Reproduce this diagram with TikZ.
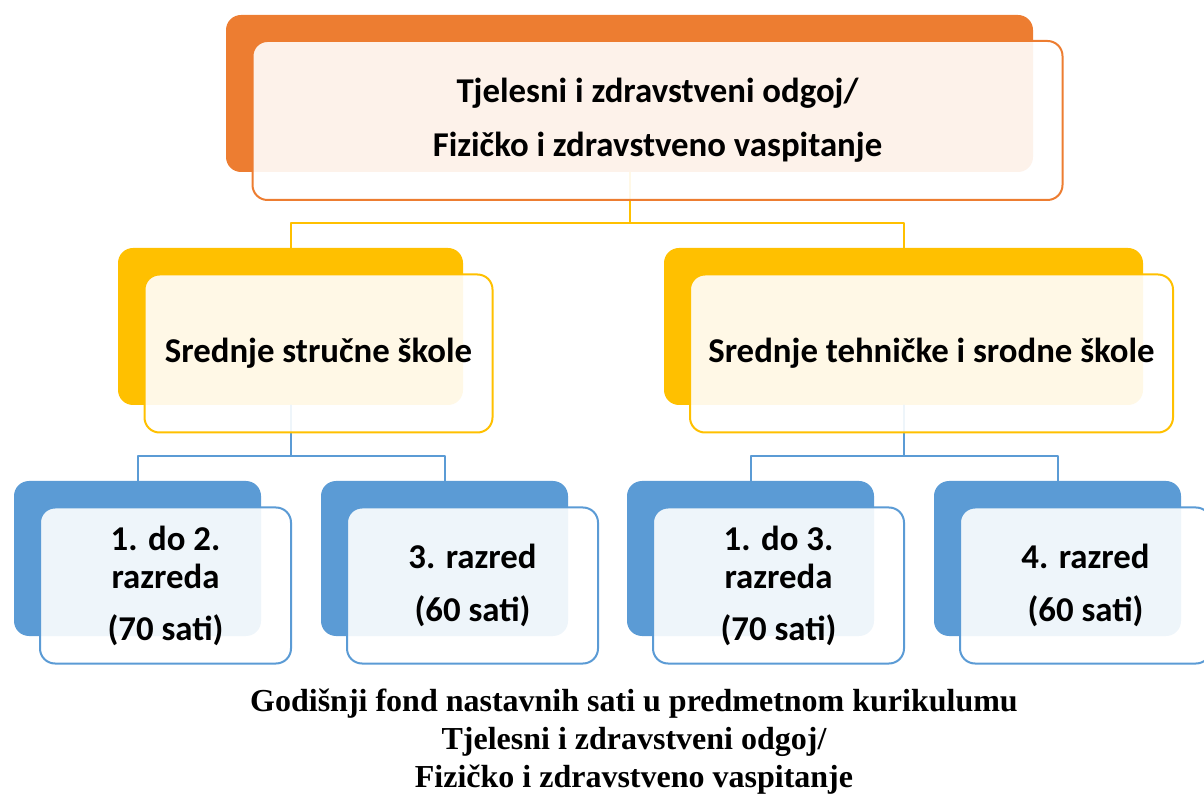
\documentclass[tikz,border=0pt]{standalone}
\usepackage{fontspec}
\setmainfont{Carlito}
\newfontfamily\capfont{Liberation Serif}
\usetikzlibrary{positioning}
\definecolor{orangeA}{HTML}{ED7D31}
\definecolor{goldA}{HTML}{FFC000}
\definecolor{blueA}{HTML}{5B9BD5}
\tikzset{
  back/.style={rectangle, rounded corners=7.5pt, inner sep=0pt, fill=#1},
  front/.style={rectangle, rounded corners=7.5pt, inner sep=0pt, draw=#1, line width=1pt,
    fill=white, fill opacity=0.9, text opacity=1, align=center,
    font=\fontsize{17.4}{19}\selectfont\bfseries},
  conn/.style={draw=#1, line width=1pt},
  caption/.style={font=\capfont\fontsize{16}{19}\selectfont\bfseries, align=center}
}
\begin{document}
\begin{tikzpicture}[x=0.5pt,y=-0.5pt, line join=round, line cap=round]
\useasboundingbox (0,0) rectangle (1204,801);
% coloured back boxes
\node[back=orangeA, minimum width=403.5pt, minimum height=78.5pt] (topb) at (629.5,93.5) {};
\node[back=goldA, minimum width=172.5pt, minimum height=78.5pt] (lb) at (290.5,326.5) {};
\node[back=goldA, minimum width=239.5pt, minimum height=78.5pt] (rb) at (903.5,326.5) {};
\foreach \n/\x in {a/137.5, b/444.5, c/750.5, d/1057.5}
  \node[back=blueA, minimum width=123.5pt, minimum height=77.5pt] (\n b) at (\x,558.5) {};
% connectors
\coordinate (bus0) at (629.5,223);
\coordinate (busl) at (290.5,456);
\coordinate (busr) at (903.5,456);
\draw[conn=goldA] (topb.south) -- (bus0);
\draw[conn=goldA] (lb.north) |- (bus0) -| (rb.north);
\draw[conn=blueA] (lb.south) -- (busl);
\draw[conn=blueA] (ab.north) |- (busl) -| (bb.north);
\draw[conn=blueA] (rb.south) -- (busr);
\draw[conn=blueA] (cb.north) |- (busr) -| (db.north);
% text boxes
\node[front=orangeA, minimum width=405pt, minimum height=79.5pt] (topf) at ([shift={(28,27)}]topb.center)
  {Tjelesni i zdravstveni odgoj/\\[8pt]Fizičko i zdravstveno vaspitanje};
\node[front=goldA, minimum width=174pt, minimum height=79pt] (lf) at ([shift={(28,27)}]lb.center)
  {Srednje stručne škole};
\node[front=goldA, minimum width=241.5pt, minimum height=79pt] (rf) at ([shift={(28,27)}]rb.center)
  {Srednje tehničke i srodne škole};
\foreach \n/\t in {a/{1. do 2.\\razreda\\[7pt](70 sati)}, b/{3. razred\\[7.5pt](60 sati)},
    c/{1. do 3.\\razreda\\[7pt](70 sati)}, d/{4. razred\\[7.5pt](60 sati)}}
  \node[front=blueA, minimum width=125.5pt, minimum height=78pt] (\n f) at ([shift={(28,27)}]\n b.center) {\t};
% caption
\node[caption] (cap) at (634,742)
  {Godišnji fond nastavnih sati u predmetnom kurikulumu\\Tjelesni i zdravstveni odgoj/\\Fizičko i zdravstveno vaspitanje};
\end{tikzpicture}
\end{document}
